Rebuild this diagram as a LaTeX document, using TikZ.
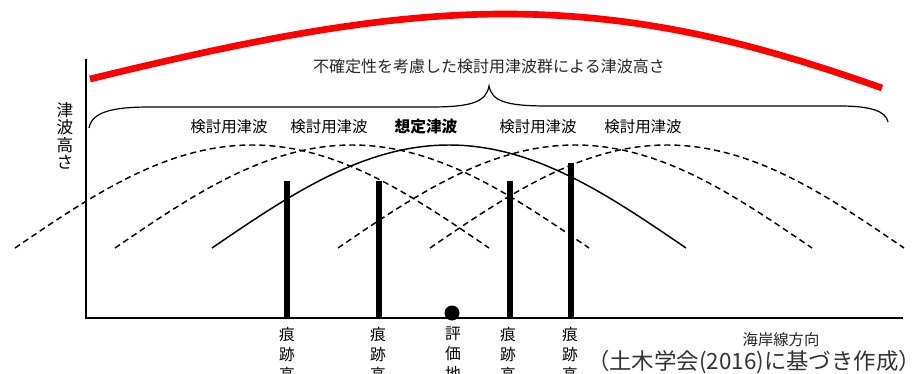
\documentclass[tikz,border=0pt]{standalone}
\usepackage{fontspec}
\newfontfamily\jp{Noto Sans CJK JP}
\begin{document}
\begin{tikzpicture}[x=0.75pt,y=-0.75pt,
  axis/.style={line width=1.1pt,black},
  wave/.style={line width=1.1pt,black},
  dwave/.style={wave,dash pattern=on 4.5pt off 3pt},
  bar/.style={line width=4.2pt,black},
  lbl/.style={font=\jp\fontsize{11.6}{14}\selectfont,inner sep=0pt},
  vlbl/.style={font=\jp\fontsize{11.8}{15}\selectfont,inner sep=0pt,align=center,anchor=north},
]
\clip (0,0) rectangle (919,374);
\fill[white] (0,0) rectangle (919,374);
% axes
\coordinate (ytop) at (86,59);
\coordinate (o) at (86,318);
\coordinate (xend) at (903,318);
\draw[axis] (ytop) -- (o) -- (xend);
% red curve
\coordinate (r0) at (90,79);
\coordinate (r1) at (505,14);
\coordinate (r2) at (882,88);
\draw[red,line width=5pt] (r0) .. controls (250,40) and (380,14) .. (r1) .. controls (645,14) and (760,45) .. (r2);
% top text
\node[font=\jp\fontsize{12}{14}\selectfont,text=black!85,inner sep=0pt] (toptext) at (489,66) {不確定性を考慮した検討用津波群による津波高さ};
% brace
\coordinate (bl) at (89,128);
\coordinate (bt) at (489,86);
\coordinate (br) at (888,122);
\draw[line width=0.9pt] (bl) .. controls (92,112) and (112,107) .. (150,107) -- (430,107) .. controls (472,107) and (486,102) .. (bt)
  .. controls (492,101) and (505,106) .. (548,106) -- (840,106) .. controls (870,106) and (886,111) .. (br);
% y label
\node[font=\jp\fontsize{12.5}{13.1}\selectfont,inner sep=0pt,align=center] (ylab) at (65,136) {津\\波\\高\\さ};
% curve labels
\node[lbl] (l1) at (229,127) {検討用津波};
\node[lbl] (l2) at (329,127) {検討用津波};
\node[lbl,font=\jp\bfseries\fontsize{11.8}{14}\selectfont] (l3) at (426,127) {想定津波};
\node[lbl] (l4) at (538,127) {検討用津波};
\node[lbl] (l5) at (643,127) {検討用津波};
% waves
\foreach \s/\st in {15/dwave,115/dwave,212/wave,338/dwave,430/dwave}{
  \draw[\st] plot[domain=0:180,samples=80,smooth] ({\s+\x/180*474},{248-103*sin(\x)});
}
% bars
\foreach \bx/\by [count=\i] in {287/181,379/181,510/181,571/163}{
  \coordinate (bt\i) at (\bx,\by);
  \coordinate (bb\i) at (\bx,318);
  \draw[bar] (bt\i) -- (bb\i);
}
% evaluation point
\fill (452,313) circle (7.5);
% bottom labels
\node[vlbl] (t1) at (287,327) {痕\\跡\\高};
\node[vlbl] (t2) at (378,327) {痕\\跡\\高};
\node[vlbl] (t3) at (453,327) {評\\価\\地};
\node[vlbl] (t4) at (508,327) {痕\\跡\\高};
\node[vlbl] (t5) at (570,327) {痕\\跡\\高};
\node[font=\jp\fontsize{11.5}{13}\selectfont,inner sep=0pt,text=black!85] (dir) at (781,340) {海岸線方向};
\node[font=\jp\fontsize{16.8}{18}\selectfont,inner sep=0pt,text=black!80] (src) at (754,362) {（土木学会(2016)に基づき作成）};
\end{tikzpicture}
\end{document}
